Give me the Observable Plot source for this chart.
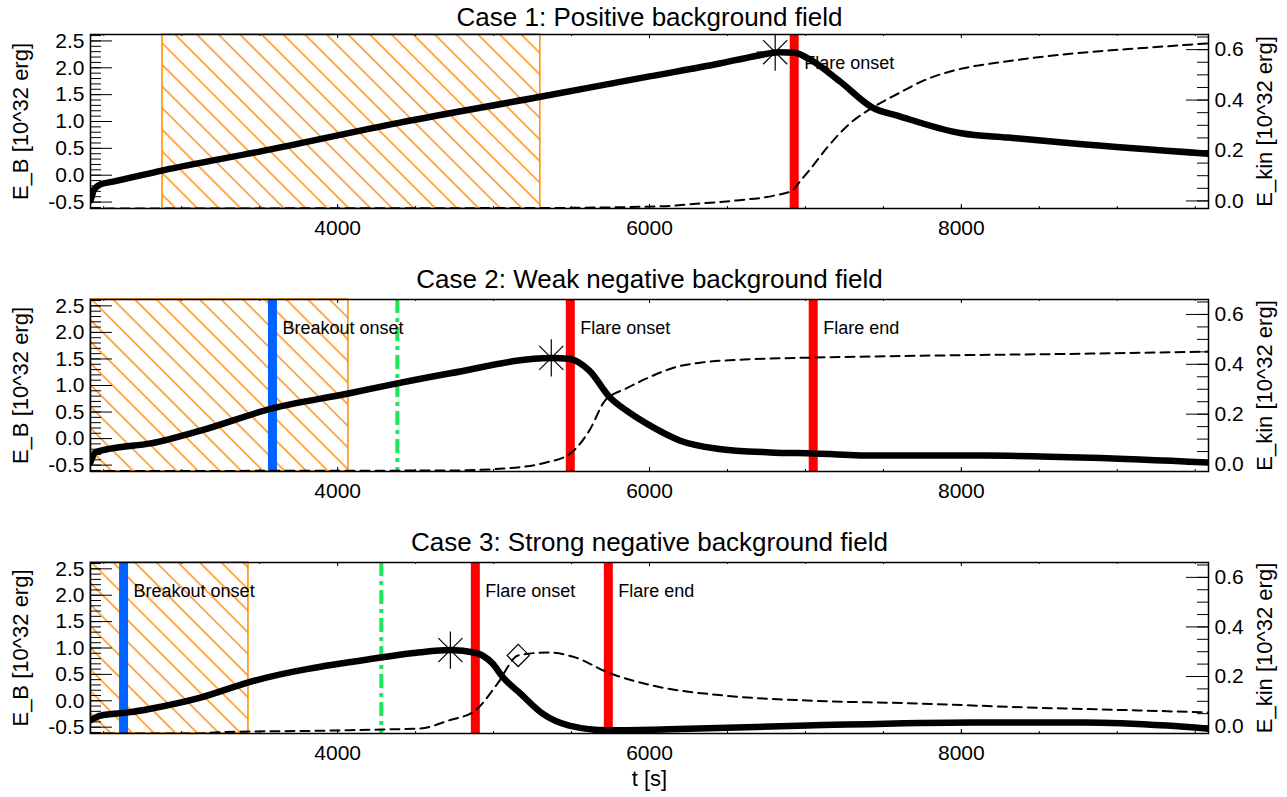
<!DOCTYPE html>
<html>
<head>
<meta charset="utf-8">
<script src="https://cdn.jsdelivr.net/npm/d3@7"></script>
<script src="https://cdn.jsdelivr.net/npm/@observablehq/plot@0.6"></script>
<style>
  body { margin: 0; background: #fff; }
  #chart { width: 1287px; height: 797px; overflow: hidden; position: relative; }
  #chart svg { display: block; }
  #defs { position: absolute; width: 0; height: 0; }
</style>
</head>
<body>
<svg id="defs" width="0" height="0">
  <defs>
    <pattern id="hatch" patternUnits="userSpaceOnUse" width="15.3" height="15.3" patternTransform="rotate(-45)">
      <line x1="7.65" y1="-1" x2="7.65" y2="16.3" stroke="#ff8800" stroke-width="1.4"></line>
    </pattern>
  </defs>
</svg>
<div id="chart"></div>
<script>
// ---------------- data ----------------
const T_DOMAIN = [2415, 9585];
const EB_DOMAIN = [-0.62, 2.62];
const EK_DOMAIN = [-0.03, 0.66];

const titles = [
  "Case 1: Positive background field",
  "Case 2: Weak negative background field",
  "Case 3: Strong negative background field"
];

const EB_TICKS = [-0.5, 0.0, 0.5, 1.0, 1.5, 2.0, 2.5];
const EK_TICKS = [0.0, 0.2, 0.4, 0.6];
const T_TICKS = [4000, 6000, 8000];

// Case 1
const case1_t  = [2415, 2422, 2435, 2480, 2560, 2880, 3500, 4400, 5300, 6000, 6450, 6700, 6830, 6930, 7020, 7220, 7430, 7600, 8000, 8300, 8720, 9585];
const case1_EB = [-0.47, -0.41, -0.28, -0.17, -0.12, 0.09, 0.44, 0.98, 1.46, 1.84, 2.08, 2.23, 2.29, 2.28, 2.17, 1.75, 1.26, 1.10, 0.78, 0.70, 0.59, 0.40];
const case1_kt = [2415, 5300, 6080, 6325, 6560, 6805, 6915, 6970, 7040, 7140, 7285, 7430, 7595, 7760, 8005, 8240, 8720, 9200, 9585];
const case1_EK = [-0.03, -0.028, -0.021, -0.01, 0.002, 0.022, 0.041, 0.081, 0.133, 0.212, 0.307, 0.37, 0.426, 0.478, 0.525, 0.549, 0.585, 0.608, 0.625];
const case1_hatch = [2877, 5300];
const case1_eventT = [6928];
const case1_eventKind = ["flare"];
const case1_eventLabel = ["Flare onset"];
const case1_peak = [6806, 2.29];

// Case 2
const case2_t  = [2415, 2447, 2543, 2800, 3120, 3582, 4069, 4383, 4723, 5370, 5492, 5614, 5748, 5851, 6024, 6197, 6434, 6774, 7050, 7460, 8146, 8831, 9585];
const case2_EB = [-0.445, -0.26, -0.19, -0.09, 0.15, 0.57, 0.85, 1.04, 1.23, 1.52, 1.50, 1.28, 0.77, 0.53, 0.21, -0.04, -0.19, -0.26, -0.28, -0.32, -0.32, -0.36, -0.45];
const case2_kt = [2415, 4723, 5062, 5338, 5492, 5614, 5716, 5851, 6024, 6159, 6332, 6607, 7050, 7806, 8831, 9585];
const case2_EK = [-0.028, -0.026, -0.018, 0.006, 0.042, 0.134, 0.255, 0.303, 0.355, 0.387, 0.407, 0.419, 0.427, 0.435, 0.443, 0.451];
const case2_hatch = [2415, 4069];
const case2_eventT = [3582, 4383, 5492, 7050];
const case2_eventKind = ["breakout", "eruption", "flare", "flare"];
const case2_eventLabel = ["Breakout onset", "", "Flare onset", "Flare end"];
const case2_peak = [5370, 1.52];

// Case 3
const case3_t  = [2415, 2479, 2659, 2800, 3120, 3428, 4280, 4530, 4723, 4883, 4992, 5062, 5171, 5312, 5485, 5735, 6126, 7011, 8075, 8787, 9319, 9585];
const case3_EB = [-0.37, -0.28, -0.22, -0.15, 0.06, 0.35, 0.82, 0.92, 0.96, 0.91, 0.71, 0.44, 0.14, -0.24, -0.47, -0.56, -0.54, -0.47, -0.41, -0.41, -0.47, -0.53];
const case3_kt = [2415, 3120, 3229, 3973, 4280, 4530, 4710, 4883, 5024, 5158, 5344, 5524, 5735, 6017, 6479, 7011, 7722, 8428, 9139, 9585];
const case3_EK = [-0.03, -0.03, -0.025, -0.018, -0.014, -0.01, 0.022, 0.063, 0.17, 0.285, 0.297, 0.277, 0.216, 0.164, 0.123, 0.103, 0.091, 0.075, 0.063, 0.055];
const case3_hatch = [2415, 3428];
const case3_eventT = [2627, 4280, 4883, 5736];
const case3_eventKind = ["breakout", "eruption", "flare", "flare"];
const case3_eventLabel = ["Breakout onset", "", "Flare onset", "Flare end"];
const case3_peak = [4723, 0.96];
const case3_kinPeak = [5158, 0.285];

// ---------------- drawing ----------------
const FONT = "'Liberation Sans', Arial, Helvetica, sans-serif";
const W = 1287, ML = 90, MR = 79, FW = W - ML - MR;
const COLORS = {flare: "#ff0000", breakout: "#0063ff", eruption: "#1ee65a"};
const ORANGE = "#ff8800";

const kToB = k => EB_DOMAIN[0] + (k - EK_DOMAIN[0]) * (EB_DOMAIN[1] - EB_DOMAIN[0]) / (EK_DOMAIN[1] - EK_DOMAIN[0]);
const bToK = b => EK_DOMAIN[0] + (b - EB_DOMAIN[0]) * (EK_DOMAIN[1] - EK_DOMAIN[0]) / (EB_DOMAIN[1] - EB_DOMAIN[0]);
const fmt1 = v => ((Math.round(v * 10) / 10) || 0).toFixed(1);

const ebMinor = d3.range(-6, 27).map(i => i / 10).filter(v => v >= EB_DOMAIN[0] && v <= EB_DOMAIN[1]);
const ekMinor = d3.range(0, 14).map(i => i * 0.05).filter(v => v <= EK_DOMAIN[1]);
const tMinor = d3.range(2500, 9600, 500).filter(v => v >= T_DOMAIN[0] && v <= T_DOMAIN[1]);

function panel(cfg) {
  const {title, tEB, EB, tEK, EK, hatch, evT, evKind, evLabel, peak, kinPeak,
         top, frameH, bottom, titleDy, xTitle} = cfg;
  const height = top + frameH + bottom;
  const eb = tEB.map((t, i) => ({t, v: EB[i]}));
  const ek = tEK.map((t, i) => ({t, v: kToB(EK[i])}));
  const events = evT.map((t, i) => ({t, kind: evKind[i], label: evLabel[i]}));
  const thick = events.filter(d => d.kind !== "eruption");
  const dashdot = events.filter(d => d.kind === "eruption");
  const labeled = events.filter(d => d.label);

  const marks = [
    Plot.rect([hatch], {x1: d => d[0], x2: d => d[1], fill: "url(#hatch)", stroke: ORANGE, strokeWidth: 1.5}),
    Plot.ruleX(thick, {x: "t", stroke: d => COLORS[d.kind], strokeWidth: 9}),
    Plot.ruleX(dashdot, {x: "t", stroke: d => COLORS[d.kind], strokeWidth: 4, strokeDasharray: "14,5,4,5"}),
    Plot.text(labeled, {x: "t", text: "label", frameAnchor: "top", lineAnchor: "middle", dy: 29, dx: 10, textAnchor: "start", fontSize: 18}),
    Plot.line(ek, {x: "t", y: "v", stroke: "black", strokeWidth: 2, strokeDasharray: "9,6", curve: "monotone-x", clip: true}),
    Plot.line(eb, {x: "t", y: "v", stroke: "black", strokeWidth: 6.5, curve: "monotone-x", clip: true}),
    Plot.dot([peak], {x: d => d[0], y: d => d[1], symbol: "times", r: 11, stroke: "black", strokeWidth: 1.2}),
    Plot.dot([peak], {x: d => d[0], y: d => d[1], symbol: "plus", r: 12, stroke: "black", strokeWidth: 1.2}),
  ];
  if (kinPeak) {
    marks.push(Plot.dot([kinPeak], {x: d => d[0], y: d => kToB(d[1]), symbol: "diamond2", r: 10, stroke: "black", fill: "none", strokeWidth: 1.2}));
  }
  marks.push(
    Plot.frame({stroke: "black", strokeWidth: 1.5}),
    // left ticks (inward)
    Plot.tickY(ebMinor, {y: d => d, insetRight: FW - 11, strokeWidth: 1}),
    Plot.tickY(EB_TICKS, {y: d => d, insetRight: FW - 22, strokeWidth: 1}),
    // right ticks (inward)
    Plot.tickY(ekMinor.map(kToB), {y: d => d, insetLeft: FW - 11, strokeWidth: 1}),
    Plot.tickY(EK_TICKS.map(kToB), {y: d => d, insetLeft: FW - 22, strokeWidth: 1}),
    // x ticks bottom & top (inward)
    Plot.tickX(tMinor, {x: d => d, insetTop: frameH - 2, strokeWidth: 1}),
    Plot.tickX(tMinor, {x: d => d, insetBottom: frameH - 2, strokeWidth: 1}),
    Plot.tickX(T_TICKS, {x: d => d, insetTop: frameH - 4, strokeWidth: 1}),
    Plot.tickX(T_TICKS, {x: d => d, insetBottom: frameH - 4, strokeWidth: 1}),
    Plot.axisY({anchor: "left", ticks: EB_TICKS, tickFormat: fmt1, tickSize: 0, tickPadding: 6, fontSize: 21, label: null}),
    Plot.axisY({anchor: "right", ticks: EK_TICKS.map(kToB), tickFormat: b => fmt1(bToK(b)), tickSize: 0, tickPadding: 6, fontSize: 21, label: null}),
    Plot.axisX({ticks: T_TICKS, tickFormat: d => String(d), tickSize: 0, tickPadding: 12, fontSize: 21, label: null}),
    Plot.text([title], {frameAnchor: "top", lineAnchor: "middle", textAnchor: "middle", dy: titleDy, fontSize: 26}),
    Plot.text(["E_B [10^32 erg]"], {frameAnchor: "left", textAnchor: "middle", lineAnchor: "middle", dx: -70, rotate: -90, fontSize: 22}),
    Plot.text(["E_kin [10^32 erg]"], {frameAnchor: "right", textAnchor: "middle", lineAnchor: "middle", dx: 56, rotate: -90, fontSize: 22})
  );
  if (xTitle) marks.push(Plot.text([xTitle], {frameAnchor: "bottom", lineAnchor: "middle", textAnchor: "middle", dy: 45, fontSize: 22}));

  return Plot.plot({
    width: W, height,
    marginTop: top, marginBottom: bottom, marginLeft: ML, marginRight: MR,
    x: {domain: T_DOMAIN},
    y: {domain: EB_DOMAIN},
    style: {fontFamily: FONT, fontSize: "21px", color: "black", background: "white", overflow: "visible"},
    marks
  });
}

const chart = document.getElementById("chart");
chart.append(panel({title: titles[0], tEB: case1_t, EB: case1_EB, tEK: case1_kt, EK: case1_EK, hatch: case1_hatch,
  evT: case1_eventT, evKind: case1_eventKind, evLabel: case1_eventLabel, peak: case1_peak,
  top: 34, frameH: 174, bottom: 54, titleDy: -17}));
chart.append(panel({title: titles[1], tEB: case2_t, EB: case2_EB, tEK: case2_kt, EK: case2_EK, hatch: case2_hatch,
  evT: case2_eventT, evKind: case2_eventKind, evLabel: case2_eventLabel, peak: case2_peak,
  top: 37, frameH: 172, bottom: 54, titleDy: -20}));
chart.append(panel({title: titles[2], tEB: case3_t, EB: case3_EB, tEK: case3_kt, EK: case3_EK, hatch: case3_hatch,
  evT: case3_eventT, evKind: case3_eventKind, evLabel: case3_eventLabel, peak: case3_peak, kinPeak: case3_kinPeak,
  top: 37, frameH: 171, bottom: 64, titleDy: -20, xTitle: "t [s]"}));
</script>
</body>
</html>
